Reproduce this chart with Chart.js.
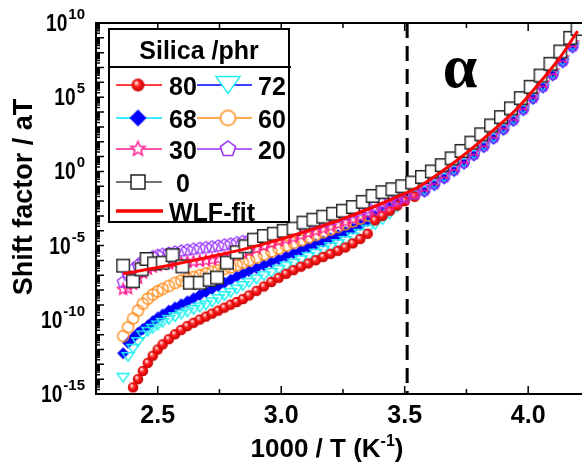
<!DOCTYPE html>
<html>
<head>
<meta charset="utf-8">
<script src="https://cdn.jsdelivr.net/npm/chart.js@4.4.0/dist/chart.umd.min.js"></script>
<style>
    body { margin: 0; background: #fff; }
</style>
</head>
<body>
<canvas id="shiftChart" width="582" height="466"></canvas>
<script>
// 1000/T grid shared by the filled series
const invT = [2.36, 2.38, 2.40, 2.42, 2.44, 2.46, 2.48, 2.50, 2.52, 2.545, 2.57, 2.595, 2.62, 2.645, 2.67,
    2.695, 2.72, 2.745, 2.77, 2.795, 2.82, 2.845, 2.87, 2.90, 2.93, 2.96, 2.99, 3.02, 3.05, 3.08,
    3.11, 3.14, 3.17, 3.20, 3.23, 3.26, 3.29, 3.32, 3.35, 3.38, 3.41, 3.44, 3.47, 3.50, 3.54,
    3.58, 3.62, 3.66, 3.70, 3.74, 3.78, 3.82, 3.86, 3.90, 3.94, 3.98, 4.02, 4.06, 4.10, 4.14, 4.18];

// log10(aT) per silica loading
const logAT80 = [null, null, -14.55, -14.0, -13.45, -12.9, -12.42, -12.0, -11.65, -11.3, -10.97, -10.68, -10.42, -10.2, -9.98,
    -9.78, -9.58, -9.38, -9.18, -8.98, -8.8, -8.6, -8.35, -8.05, -7.75, -7.45, -7.17, -6.9, -6.65, -6.42,
    -6.2, -5.98, -5.76, -5.55, -5.35, -5.12, -4.85, -4.55, -4.2, -3.3, -3.0, -2.65, -2.3, -2.0, -1.7,
    null, null, null, null, null, null, null, null, null, null, null, null, null, null, null, null];
const logAT72 = [-13.9, -12.5, -11.95, -11.5, -11.05, -10.8, -10.6, -10.38, -10.2, -10.0, -9.82, -9.65, -9.5, -9.33, -9.17,
    -9.02, -8.82, -8.6, -8.4, -8.18, -7.95, -7.72, -7.5, -7.28, -7.06, -6.84, -6.62, -6.4, -6.2, -5.98,
    -5.76, -5.54, -5.32, -5.1, -4.9, -4.68, -4.45, -4.2, -3.92, -3.62, -3.28, -2.9, -2.4, -1.98, -1.6,
    -1.32, -0.88, -0.43, 0.07, 0.57, 1.12, 1.68, 2.25, 2.85, 3.45, 4.17, 4.93, 5.7, 6.52, 7.4, 8.4];
const logAT68 = [-12.25, -11.55, -11.2, -10.88, -10.62, -10.38, -10.1, -9.85, -9.64, -9.38, -9.17, -8.96, -8.76, -8.55, -8.33,
    -8.12, -7.92, -7.72, -7.5, -7.3, -7.08, -6.9, -6.72, -6.52, -6.32, -6.12, -5.92, -5.72, -5.52, -5.32,
    -5.12, -4.92, -4.72, -4.52, -4.3, -4.08, -3.85, -3.6, -3.32, -3.02, -2.72, -2.4, -2.12, -1.85, -1.62,
    -1.37, -0.93, -0.48, 0.02, 0.52, 1.07, 1.63, 2.2, 2.8, 3.4, 4.12, 4.88, 5.65, 6.47, 7.35, 8.35];
const logAT60 = [-11.1, -10.5, -9.92, -9.38, -8.92, -8.58, -8.3, -8.08, -7.92, -7.72, -7.52, -7.36, -7.24, -7.12, -7.0,
    -6.88, -6.76, -6.66, -6.56, -6.46, -6.32, -6.16, -6.0, -5.8, -5.6, -5.4, -5.2, -5.0, -4.82, -4.64,
    -4.46, -4.28, -4.1, -3.92, -3.74, -3.56, -3.38, -3.18, -2.96, -2.74, -2.5, -2.26, -2.0, -1.74, -1.5,
    null, null, null, null, null, null, null, null, null, null, null, null, null, null, null, null];
const logAT30 = [-7.95, -7.9, -7.6, -7.2, -6.85, -6.6, -6.45, -6.35, -6.28, -6.22, -6.18, -6.15, -6.12, -6.08, -6.05,
    -6.0, -5.95, -5.88, -5.8, -5.72, -5.6, -5.48, -5.35, -5.2, -5.02, -4.85, -4.7, -4.57, -4.45, -4.3,
    -4.15, -4.0, -3.85, -3.7, -3.55, -3.38, -3.2, -3.02, -2.84, -2.66, -2.48, -2.28, -2.08, -1.86, -1.42,
    -1.07, -0.63, -0.18, 0.32, 0.82, 1.37, 1.93, 2.5, 3.1, 3.7, 4.42, 5.18, 5.95, 6.77, 7.65, 8.65];
const logAT20 = [-7.45, -7.0, -6.6, -6.3, -6.05, -5.88, -5.75, -5.65, -5.58, -5.5, -5.43, -5.36, -5.3, -5.24, -5.18,
    -5.13, -5.08, -5.02, -4.95, -4.88, -4.8, -4.72, -4.64, -4.55, -4.45, -4.32, -4.2, -4.07, -3.94, -3.82,
    -3.7, -3.56, -3.42, -3.26, -3.1, -2.94, -2.78, -2.62, -2.46, -2.3, -2.14, -1.98, -1.84, -1.7, -1.52,
    -1.27, -0.83, -0.38, 0.12, 0.62, 1.17, 1.73, 2.3, 2.9, 3.5, 4.22, 4.98, 5.75, 6.57, 7.45, 8.45];

// unfilled rubber is measured on its own grid
const invT0 = [2.36, 2.40, 2.435, 2.455, 2.485, 2.52, 2.56, 2.60, 2.63, 2.67, 2.71, 2.74, 2.78, 2.82, 2.855,
    2.89, 2.93, 2.97, 3.01, 3.05, 3.09, 3.13, 3.17, 3.21, 3.25, 3.29, 3.33, 3.37, 3.41, 3.45,
    3.49, 3.53, 3.57, 3.61, 3.65, 3.69, 3.73, 3.77, 3.81, 3.85, 3.89, 3.93, 3.97, 4.01, 4.05,
    4.09, 4.13, 4.17, 4.20];
const logAT0 = [-6.35, -7.4, -6.6, -5.9, -6.2, -6.15, -5.65, -6.4, -7.5, -7.5, -7.3, -7.15, -6.15, -5.45, -5.05,
    -4.6, -4.35, -4.2, -4.0, -3.85, -3.45, -3.25, -3.05, -2.85, -2.65, -2.4, -2.05, -1.65, -1.4, -1.2,
    -1.0, -0.75, -0.37, 0.0, 0.42, 0.88, 1.38, 1.94, 2.5, 3.1, 3.66, 4.25, 4.94, 5.7, 6.46,
    7.25, 8.08, 9.0, 9.6];

// WLF fit curve
const fitInvT = [2.36, 2.45, 2.55, 2.65, 2.75, 2.85, 2.95, 3.05, 3.15, 3.25, 3.35, 3.45, 3.55, 3.65, 3.75,
    3.85, 3.95, 4.05, 4.13, 4.20];
const fitLogAT = [-6.9, -6.63, -6.32, -5.98, -5.62, -5.24, -4.8, -4.3, -3.77, -3.2, -2.55, -1.85, -1.1, 0.0, 1.25,
    2.65, 4.15, 6.05, 7.7, 9.45];

const xTicks = [2.5, 3.0, 3.5, 4.0];
const xMinorTicks = [2.75, 3.25, 3.75];
const yTicks = [-15, -10, -5, 0, 5, 10];
const alphaOnset = 3.51;

const SANS = '"Liberation Sans", Arial, sans-serif';

const makeMarker = (shape, size, stroke, fill, lw) => {
    const c = document.createElement('canvas');
    const s = Math.ceil(size + lw + 4);
    c.width = s;
    c.height = s;
    const g = c.getContext('2d');
    const m = s / 2, r = size / 2;
    g.lineWidth = lw;
    g.strokeStyle = stroke;
    g.beginPath();
    if (shape === 'sphere') {
        const grad = g.createRadialGradient(m - r * 0.3, m - r * 0.35, r * 0.1, m, m, r);
        grad.addColorStop(0, '#ffe0e0');
        grad.addColorStop(0.4, '#ff2020');
        grad.addColorStop(1, '#c80000');
        g.arc(m, m, r, 0, Math.PI * 2);
        g.fillStyle = grad;
        g.fill();
        return c;
    }
    if (shape === 'circle') {
        g.arc(m, m, r, 0, Math.PI * 2);
    } else if (shape === 'square') {
        g.rect(m - r, m - r, size, size);
    } else if (shape === 'diamond') {
        g.moveTo(m, m - r); g.lineTo(m + r, m); g.lineTo(m, m + r); g.lineTo(m - r, m);
        g.closePath();
    } else if (shape === 'triangle') {
        const h = r * 0.7;
        g.moveTo(m - r, m - h); g.lineTo(m + r, m - h); g.lineTo(m, m + h);
        g.closePath();
    } else {
        const n = shape === 'star' ? 10 : 5;
        for (let i = 0; i < n; i++) {
            const a = -Math.PI / 2 + i * 2 * Math.PI / n;
            const rr = shape === 'star' && i % 2 ? r * 0.45 : r;
            const px = m + rr * Math.cos(a), py = m + rr * Math.sin(a);
            if (i === 0) g.moveTo(px, py); else g.lineTo(px, py);
        }
        g.closePath();
    }
    if (fill) { g.fillStyle = fill; g.fill(); }
    if (stroke) g.stroke();
    return c;
};

// marker and legend line per series
const series = [
    { name: '80', xs: invT, ys: logAT80, shape: 'sphere', color: '#ff0000', line: '#ff0000', size: 10.5, legendSize: 13 },
    { name: '72', xs: invT, ys: logAT72, shape: 'triangle', color: '#1ef0f0', line: '#0000ff', size: 12, legendSize: 24 },
    { name: '68', xs: invT, ys: logAT68, shape: 'diamond', color: null, fill: '#0000ff', line: '#00e5ff', size: 12, legendSize: 17 },
    { name: '60', xs: invT, ys: logAT60, shape: 'circle', color: '#ff8c1a', line: '#ff8c1a', size: 11, legendSize: 15 },
    { name: '30', xs: invT, ys: logAT30, shape: 'star', color: '#ff1a8c', line: '#ff1a8c', size: 12, legendSize: 15 },
    { name: '20', xs: invT, ys: logAT20, shape: 'pentagon', color: '#9933ff', line: '#9933ff', size: 12, legendSize: 16 },
    { name: '0', xs: invT0, ys: logAT0, shape: 'square', color: '#222222', fill: '#ffffff', line: '#444444', size: 12.5, legendSize: 14 }
];

const toPoints = (xs, ys) => xs.map((x, i) => ({ x, y: ys[i] })).filter(p => p.y !== null);

const datasets = [{
    label: 'WLF-fit',
    data: toPoints(fitInvT, fitLogAT),
    showLine: true,
    borderColor: '#ff0000',
    borderWidth: 3,
    pointRadius: 0,
    cubicInterpolationMode: 'monotone'
}];
// first pushed is drawn on top: squares, then pentagons and stars, diamonds underneath
[6, 5, 4, 0, 3, 1, 2].forEach(i => {
    const s = series[i];
    datasets.push({
        label: s.name,
        data: toPoints(s.xs, s.ys),
        showLine: false,
        pointStyle: makeMarker(s.shape, s.size, s.color, s.fill, 1.4),
        pointRadius: 5
    });
});

const decor = {
    id: 'decor',
    beforeDatasetsDraw(chart) {
        const { ctx, chartArea: a, scales: { x } } = chart;
        const px = x.getPixelForValue(alphaOnset);
        ctx.save();
        ctx.strokeStyle = '#000';
        ctx.lineWidth = 3;
        ctx.setLineDash([15, 8]);
        ctx.beginPath();
        ctx.moveTo(px, a.top);
        ctx.lineTo(px, a.bottom);
        ctx.stroke();
        ctx.restore();
    },
    afterDraw(chart) {
        const { ctx, chartArea: a, scales: { x, y } } = chart;
        ctx.save();

        // top frame line and inward ticks
        ctx.strokeStyle = '#000';
        ctx.lineWidth = 2;
        ctx.beginPath();
        ctx.moveTo(a.left, a.top);
        ctx.lineTo(a.right, a.top);
        ctx.stroke();
        ctx.lineWidth = 1.5;
        ctx.beginPath();
        xTicks.concat(xMinorTicks).forEach(v => {
            const px = x.getPixelForValue(v);
            const len = xTicks.includes(v) ? 8 : 5;
            ctx.moveTo(px, a.bottom); ctx.lineTo(px, a.bottom - len);
            ctx.moveTo(px, a.top); ctx.lineTo(px, a.top + len);
        });
        for (let d = -15; d <= 10; d++) {
            const py = y.getPixelForValue(d);
            ctx.moveTo(a.left, py); ctx.lineTo(a.left + 8, py);
            if (d === 10) continue;
            for (let k = 2; k <= 9; k++) {
                const pm = y.getPixelForValue(d + Math.log10(k));
                ctx.moveTo(a.left, pm); ctx.lineTo(a.left + 4, pm);
            }
        }
        ctx.stroke();

        ctx.fillStyle = '#000';
        // x tick labels
        ctx.font = `bold 25px ${SANS}`;
        ctx.textAlign = 'center';
        ctx.textBaseline = 'alphabetic';
        xTicks.forEach(v => ctx.fillText(v.toFixed(1), x.getPixelForValue(v), 423));

        // y tick labels as powers of ten
        yTicks.forEach(v => {
            const py = y.getPixelForValue(v);
            ctx.textAlign = 'left';
            ctx.font = `bold 15px ${SANS}`;
            const e = String(v);
            const ew = ctx.measureText(e).width;
            ctx.fillText(e, 85 - ew, py - 4);
            ctx.font = `bold 24px ${SANS}`;
            const bw = ctx.measureText('10').width * 0.8;
            ctx.save();
            ctx.translate(85 - ew - 1 - bw, py + 8);
            ctx.scale(0.8, 1);
            ctx.fillText('10', 0, 0);
            ctx.restore();
        });

        // x axis title with superscript
        ctx.textAlign = 'left';
        ctx.font = `bold 26px ${SANS}`;
        const t1 = '1000 / T (K', t3 = ')';
        const w1 = ctx.measureText(t1).width, w3 = ctx.measureText(t3).width;
        ctx.font = `bold 16px ${SANS}`;
        const w2 = ctx.measureText('-1').width;
        let tx = 327 - (w1 + w2 + w3) / 2;
        ctx.font = `bold 26px ${SANS}`;
        ctx.fillText(t1, tx, 457);
        ctx.font = `bold 16px ${SANS}`;
        ctx.fillText('-1', tx + w1, 446);
        ctx.font = `bold 26px ${SANS}`;
        ctx.fillText(t3, tx + w1 + w2, 457);

        // y axis title
        ctx.save();
        ctx.translate(32, 197);
        ctx.rotate(-Math.PI / 2);
        ctx.textAlign = 'center';
        ctx.font = `bold 27px ${SANS}`;
        ctx.fillText('Shift factor / aT', 0, 0);
        ctx.restore();

        // alpha relaxation region
        ctx.font = 'bold 62px "Liberation Serif", "DejaVu Serif", serif';
        ctx.textAlign = 'center';
        ctx.fillText('α', 460, 87);

        // legend box
        ctx.fillStyle = '#fff';
        ctx.fillRect(109, 29, 180, 193);
        ctx.strokeStyle = '#000';
        ctx.lineWidth = 2;
        ctx.strokeRect(109, 29, 180, 193);
        ctx.beginPath();
        ctx.moveTo(109, 67);
        ctx.lineTo(291, 67);
        ctx.stroke();
        ctx.fillStyle = '#000';
        ctx.font = `bold 25px ${SANS}`;
        ctx.textAlign = 'center';
        ctx.fillText('Silica /phr', 199, 59);

        const rowsY = [85, 118, 149, 182];
        const cols = [[116, 162, 138, 169], [197, 252, 228, 258]];
        ctx.textAlign = 'left';
        series.forEach((s, i) => {
            const ry = rowsY[Math.floor(i / 2)];
            const [x0, x1, mx, tx2] = cols[i % 2];
            ctx.strokeStyle = s.line;
            ctx.lineWidth = 1.5;
            ctx.beginPath();
            ctx.moveTo(x0, ry);
            ctx.lineTo(x1, ry);
            ctx.stroke();
            const img = makeMarker(s.shape, s.legendSize, s.color, s.fill || '#ffffff', 1.5);
            ctx.drawImage(img, mx - img.width / 2, ry - img.height / 2);
            ctx.fillStyle = '#000';
            ctx.fillText(s.name === '0' ? ' 0' : s.name, tx2, ry + 10);
        });
        ctx.strokeStyle = '#ff0000';
        ctx.lineWidth = 3.5;
        ctx.beginPath();
        ctx.moveTo(116, 211);
        ctx.lineTo(163, 211);
        ctx.stroke();
        ctx.fillText('WLF-fit', 169, 221);

        ctx.restore();
    }
};

new Chart(document.getElementById('shiftChart'), {
    type: 'scatter',
    data: { datasets },
    options: {
        responsive: false,
        animation: false,
        layout: { autoPadding: false, padding: { top: 23, right: 0, left: 0, bottom: 0 } },
        plugins: { legend: { display: false }, tooltip: { enabled: false } },
        scales: {
            x: {
                type: 'linear', min: 2.25, max: 4.218,
                afterFit: s => { s.height = 72; s.paddingLeft = 0; s.paddingRight = 0; },
                ticks: { display: false },
                grid: { display: false },
                border: { display: true, color: '#000', width: 2 }
            },
            y: {
                type: 'linear', min: -15, max: 10,
                afterFit: s => { s.width = 96; s.paddingTop = 0; s.paddingBottom = 0; },
                ticks: { display: false },
                grid: { display: false },
                border: { display: true, color: '#000', width: 2 }
            }
        }
    },
    plugins: [decor]
});
</script>
</body>
</html>
